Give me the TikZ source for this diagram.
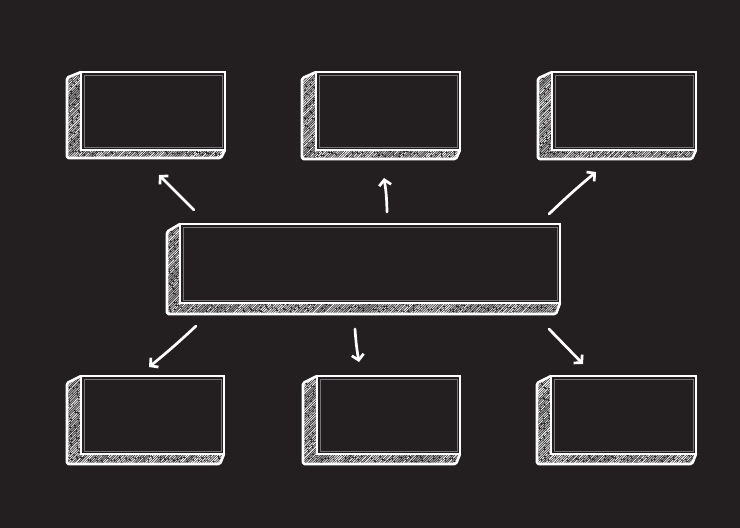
\documentclass[tikz,border=0pt]{standalone}
\usetikzlibrary{arrows.meta,calc}
\definecolor{bg}{HTML}{231F20}
\definecolor{innerline}{HTML}{77737A}
\tikzset{
  frontface/.style={draw=white, fill=bg, line width=2.8pt, inner sep=0pt, outer sep=0pt},
  silhouette/.style={draw=white, line width=2.6pt, line join=round, rounded corners=1.5pt},
  hatchline/.style={white, line width=1pt},
  arr/.style={white, line width=2.7pt, line cap=round, -{Straight Barb[length=5.5pt,width=12pt]}},
}
% #1 name, #2 x, #3 y (front top-left), #4 w, #5 h, #6 dx, #7 dy
\newcommand\chalkbox[7]{%
  \begin{scope}
    \clip (#2,#3) -- (#2-#6,#3+0.7*#7) -- (#2-#6,#3+#5+#7) -- (#2+#4-4,#3+#5+#7) -- (#2+#4,#3+#5) -- cycle;
    \pgfmathtruncatemacro\nlines{(#4+#5+#6+#7)/2.4}
    \foreach \k in {0,...,\nlines}{
      \pgfmathsetmacro\op{0.45+0.55*rnd}
      \pgfmathsetmacro\ona{3+9*rnd}
      \pgfmathsetmacro\offa{0.3+1.6*rnd}
      \draw[hatchline, opacity=\op, dash pattern=on \ona pt off \offa pt]
        (#2-#6-#5-#7+\k*2.4, #3+#5+#7+2) -- ++(#5+#7+12, -#5-#7-12);
    }
  \end{scope}
  \draw[silhouette] (#2,#3) -- (#2-#6,#3+0.7*#7) -- (#2-#6,#3+#5+#7) -- (#2+#4-4,#3+#5+#7) -- (#2+#4,#3+#5);
  \node[frontface, minimum width=#4pt, minimum height=#5pt, anchor=north west] (#1) at (#2,#3) {};
  \draw[innerline, line width=0.7pt] ($(#1.north west)+(2.9,2.9)$) rectangle ($(#1.south east)+(-2.9,-2.9)$);
}
\begin{document}
\begin{tikzpicture}[x=1pt,y=-1pt]
  \pgfmathsetseed{4242}
  \fill[bg] (0,0) rectangle (740,528);
  \useasboundingbox (0,0) rectangle (740,528);

  \chalkbox{tl}{81}{72}{144}{78}{14}{8}
  \chalkbox{tm}{316}{72}{144}{78}{14}{9}
  \chalkbox{tr}{552}{72}{144}{78}{14}{9}
  \chalkbox{mid}{180}{224}{380}{79}{13}{11}
  \chalkbox{bl}{81}{376}{143}{78}{14}{10}
  \chalkbox{bm}{317}{376}{143}{78}{14}{10}
  \chalkbox{br}{551}{376}{145}{78}{14}{10}

  \coordinate (a1s) at (194,210); \coordinate (a1e) at (159,175);
  \coordinate (a2s) at (387,212); \coordinate (a2e) at (384,178);
  \coordinate (a3s) at (549,214); \coordinate (a3e) at (596,172);
  \coordinate (a4s) at (196,326); \coordinate (a4e) at (149,367);
  \coordinate (a5s) at (355,329); \coordinate (a5e) at (359,362);
  \coordinate (a6s) at (549,329); \coordinate (a6e) at (583,364);

  \draw[arr] (a1s) -- (a1e);
  \draw[arr] (a2s) to[bend right=4] (a2e);
  \draw[arr] (a3s) to[bend left=2] (a3e);
  \draw[arr] (a4s) to[bend left=2] (a4e);
  \draw[arr] (a5s) to[bend right=3] (a5e);
  \draw[arr] (a6s) -- (a6e);
\end{tikzpicture}
\end{document}
